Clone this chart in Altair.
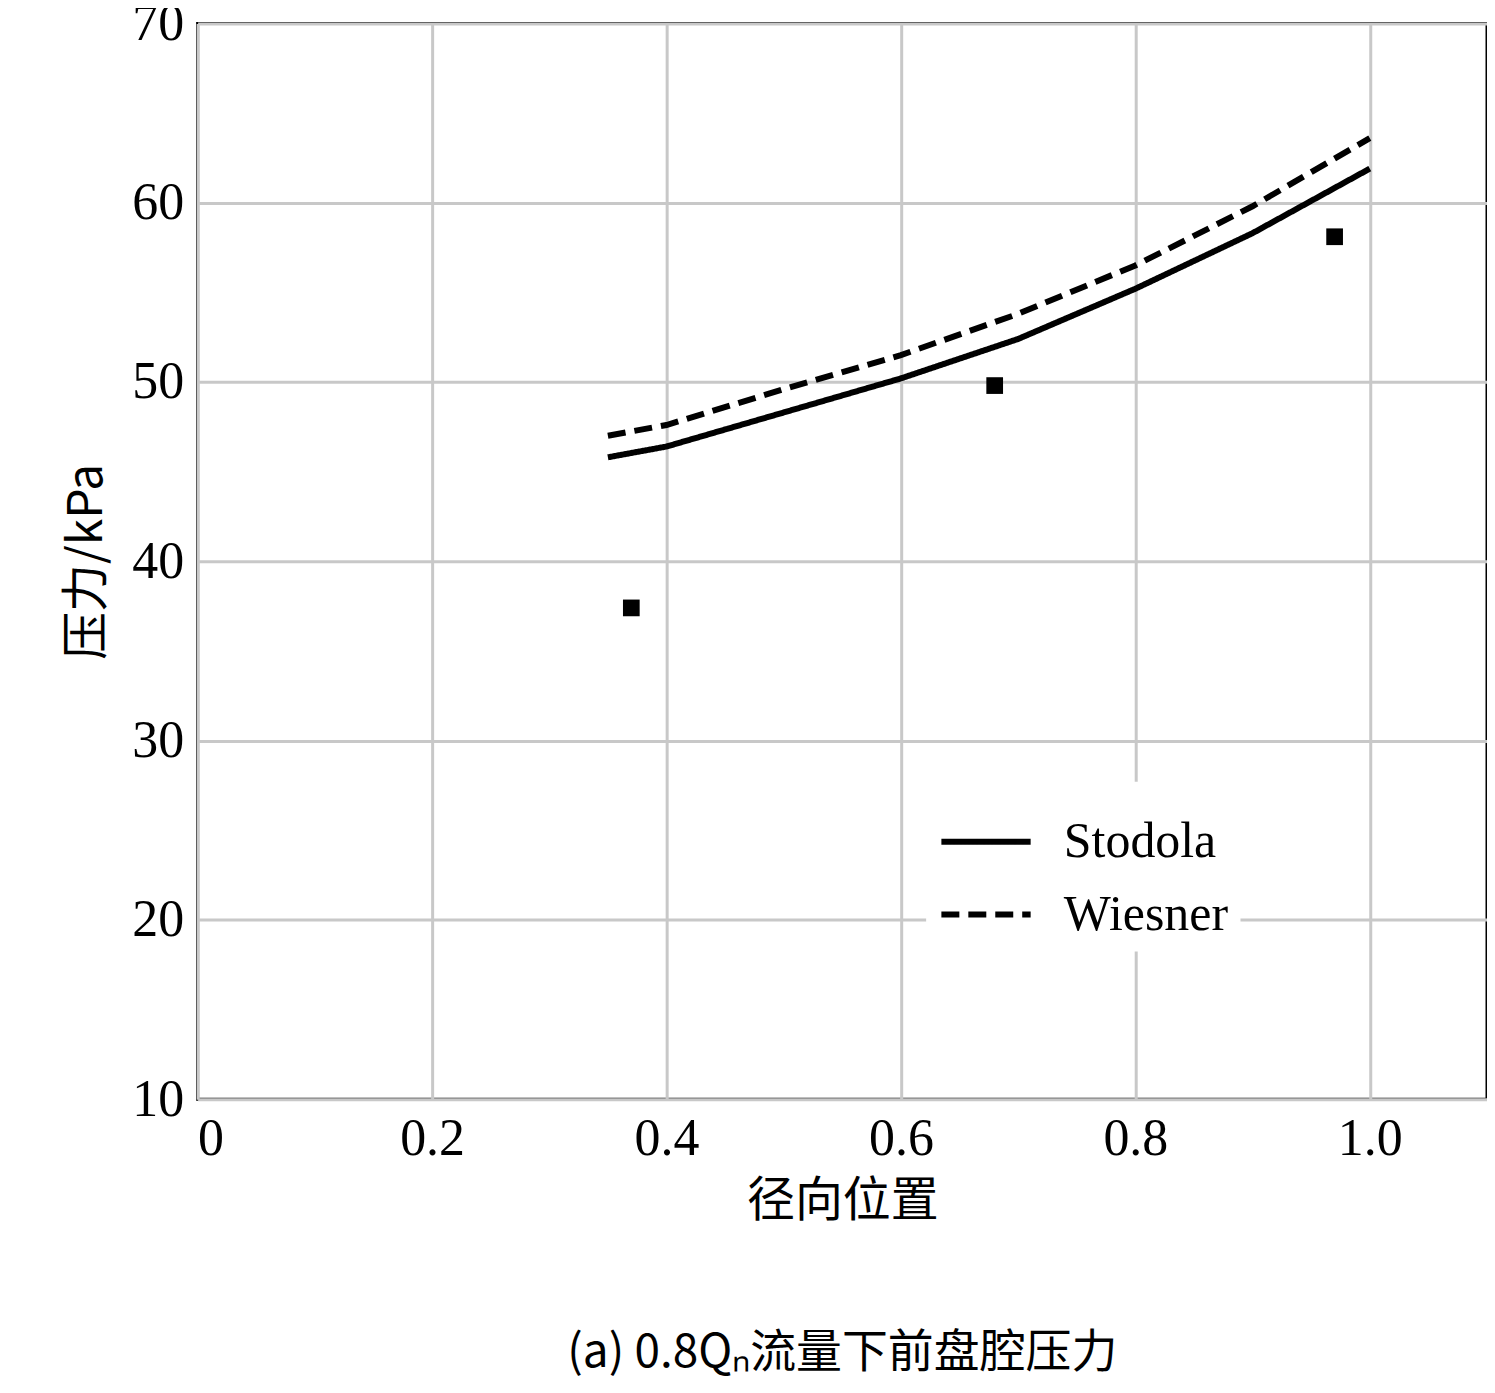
import altair as alt
import pandas as pd

x_line = [0.35, 0.4, 0.5, 0.6, 0.7, 0.8, 0.9, 1.0]
stodola = [45.8, 46.4, 48.3, 50.2, 52.4, 55.2, 58.3, 61.9]
wiesner = [47.0, 47.6, 49.6, 51.5, 53.8, 56.5, 59.8, 63.6]
exp_x = [0.37, 0.68, 0.97]
exp_y = [37.4, 49.8, 58.1]

lines = pd.DataFrame({
    "x": x_line * 2,
    "y": stodola + wiesner,
    "series": ["Stodola"] * len(x_line) + ["Wiesner"] * len(x_line),
})
points = pd.DataFrame({"x": exp_x, "y": exp_y, "kind": ["试验"] * len(exp_x)})

serif = "Liberation Serif"
cjk = "Noto Sans CJK SC"

x_enc = alt.X("x:Q", scale=alt.Scale(domain=[0, 1.1], nice=False),
              axis=alt.Axis(values=[0, 0.2, 0.4, 0.6, 0.8, 1.0],
                            labelExpr="datum.value == 0 ? '0' : format(datum.value, '.1f')",
                            title="径向位置", titleFont=cjk))
y_enc = alt.Y("y:Q", scale=alt.Scale(domain=[10, 70], nice=False),
              axis=alt.Axis(values=[10, 20, 30, 40, 50, 60, 70], title="压力/kPa", titleFont=cjk))

line_layer = alt.Chart(lines).mark_line(color="black", strokeWidth=6).encode(
    x=x_enc, y=y_enc,
    strokeDash=alt.StrokeDash("series:N", scale=alt.Scale(domain=["Stodola", "Wiesner"], range=[[1, 0], [18, 9]]),
                              legend=alt.Legend(title=None, orient="none", legendX=730, legendY=760,
                                                symbolType="stroke", symbolStrokeWidth=6, symbolSize=8000,
                                                symbolStrokeColor="black", labelFontSize=50, labelLimit=0,
                                                labelFont=serif, labelColor="black", rowPadding=0,
                                                fillColor="white", padding=12, labelOffset=30)),
)
point_layer = alt.Chart(points).mark_square(color="black", size=280, opacity=1).encode(
    x="x:Q", y="y:Q",
    shape=alt.Shape("kind:N", scale=alt.Scale(domain=["试验"], range=["square"]),
                    legend=alt.Legend(title=None, orient="none", legendX=860, legendY=945,
                                      symbolFillColor="black", symbolStrokeColor="black", symbolSize=280,
                                      symbolOpacity=1, labelFontSize=46, labelFont=cjk, labelLimit=0,
                                      labelColor="black", labelOffset=150,
                                      fillColor="white", padding=12)),
)

chart = (line_layer + point_layer).properties(
    width=1292, height=1078,
    autosize=alt.AutoSizeParams(type="none"),
    padding={"left": 190, "top": 14, "right": 0, "bottom": 300},
    title=alt.Title("(a) 0.8Qₙ流量下前盘腔压力", orient="bottom", font=cjk, fontSize=46,
                    fontWeight="normal", offset=105),
).resolve_legend(shape="independent", strokeDash="independent").configure_view(
    stroke="black", strokeWidth=3
).configure_axis(
    grid=True, gridColor="#c8c8c8", gridWidth=3, domain=False, ticks=False,
    labelFont=serif, labelFontSize=52, labelColor="black", labelPadding=14,
    titleFontSize=48, titleFontWeight="normal", titleColor="black",
).configure_axisY(titlePadding=20).configure_axisX(titlePadding=14)

chart.save("out.html", embed_options={"renderer": "svg", "actions": False})
